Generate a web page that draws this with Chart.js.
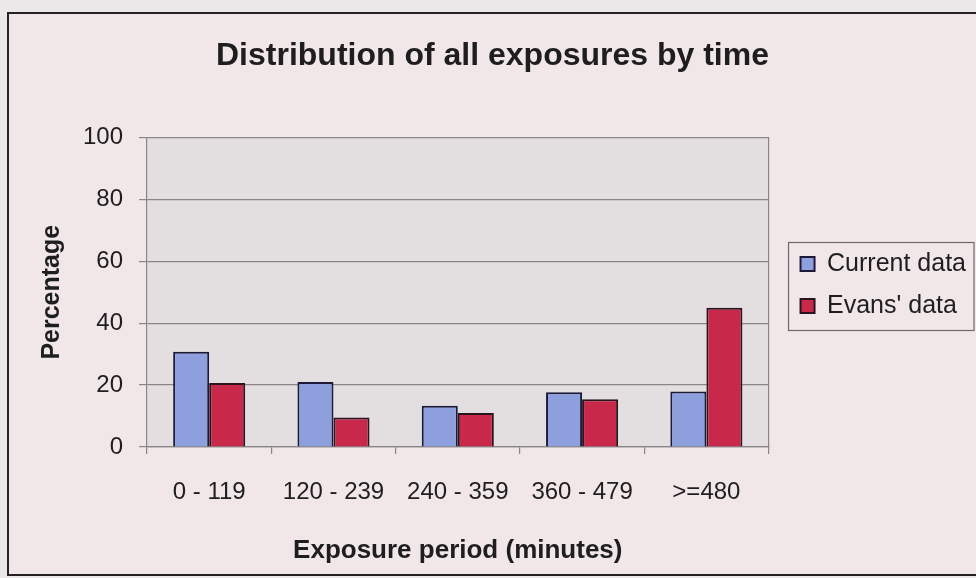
<!DOCTYPE html>
<html>
<head>
<meta charset="utf-8">
<script src="https://cdn.jsdelivr.net/npm/chart.js@4.4.0/dist/chart.umd.min.js"></script>
<style>
  html, body { margin: 0; padding: 0; background: #ebe8e9; }
  #wrap { width: 976px; height: 578px; position: relative; }
  canvas { display: block; }
</style>
</head>
<body>
<div id="wrap"><canvas id="chart" width="976" height="578"></canvas></div>
<script>
// Exposure periods (minutes) and the share of exposures in each, in percent
const categories = ['0 - 119', '120 - 239', '240 - 359', '360 - 479', '>=480'];
const currentData = [30.8, 21, 13.3, 17.7, 17.9];
const evansData = [20.7, 9.5, 11, 15.4, 45];
const yTicks = [0, 20, 40, 60, 80, 100];

const FONT = "'Liberation Sans', Arial, sans-serif";
const INK = '#1e1e1e';
const GRID = '#8a8688';

// Paints the framed pink panel and the grey plot background
const panelPlugin = {
  id: 'panel',
  beforeDraw(chart) {
    const { ctx, chartArea: a } = chart;
    ctx.save();
    ctx.fillStyle = '#ebe8e9';
    ctx.fillRect(0, 0, chart.width, chart.height);
    ctx.fillStyle = '#f1e6e8';
    ctx.fillRect(8, 13, chart.width, 562);
    ctx.strokeStyle = '#262224';
    ctx.lineWidth = 2;
    ctx.strokeRect(8, 13, chart.width + 4, 562);
    ctx.fillStyle = '#e3dfe1';
    ctx.fillRect(a.left, a.top, a.right - a.left, a.bottom - a.top);
    ctx.restore();
  }
};

// Thin frame around the legend entries
const legendFramePlugin = {
  id: 'legendFrame',
  afterDraw(chart) {
    const lg = chart.legend;
    if (!lg || !lg.legendHitBoxes || !lg.legendHitBoxes.length) return;
    const hb = lg.legendHitBoxes;
    const first = hb[0], last = hb[hb.length - 1];
    const left = first.left - 12;
    const top = first.top - 9;
    const bottom = last.top + last.height + 12;
    const right = 974;
    const ctx = chart.ctx;
    ctx.save();
    ctx.strokeStyle = '#6e6a6c';
    ctx.lineWidth = 1.2;
    ctx.strokeRect(left, top, right - left, bottom - top);
    ctx.restore();
  }
};

new Chart(document.getElementById('chart'), {
  type: 'bar',
  data: {
    labels: categories,
    datasets: [
      {
        label: 'Current data',
        data: currentData,
        backgroundColor: '#8d9fdc',
        borderColor: '#1c1a38',
        borderWidth: 2
      },
      {
        label: "Evans' data",
        data: evansData,
        backgroundColor: '#c8294a',
        borderColor: '#2a1420',
        borderWidth: 2
      }
    ]
  },
  options: {
    responsive: false,
    devicePixelRatio: 1,
    animation: false,
    layout: { padding: { top: 4, left: 9, right: 0, bottom: 12 } },
    datasets: {
      bar: { categoryPercentage: 0.58, barPercentage: 1.0 }
    },
    plugins: {
      title: {
        display: true,
        text: 'Distribution of all exposures by time',
        color: INK,
        font: { family: FONT, size: 32, weight: 'bold' },
        padding: { top: 33, bottom: 62 }
      },
      legend: {
        position: 'right',
        maxWidth: 320,
        labels: {
          color: INK,
          font: { family: FONT, size: 25 },
          boxWidth: 14,
          boxHeight: 14,
          padding: 17
        }
      },
      tooltip: { enabled: false }
    },
    scales: {
      x: {
        grid: {
          display: true,
          drawOnChartArea: false,
          tickLength: 7,
          color: GRID,
          lineWidth: 1.2
        },
        border: { display: true, color: GRID, width: 1.2 },
        ticks: {
          color: INK,
          font: { family: FONT, size: 24 },
          padding: 24,
          maxRotation: 0
        },
        title: {
          display: true,
          text: 'Exposure period (minutes)',
          color: INK,
          font: { family: FONT, size: 26, weight: 'bold' },
          padding: { top: 4, bottom: 0 }
        }
      },
      y: {
        min: 0,
        max: 100,
        afterBuildTicks(scale) {
          scale.ticks = yTicks.map(v => ({ value: v }));
        },
        grid: {
          color: GRID,
          lineWidth: 1.2,
          tickLength: 8
        },
        border: { display: true, color: GRID, width: 1.2 },
        ticks: {
          color: INK,
          font: { family: FONT, size: 24 },
          padding: 16
        },
        title: {
          display: true,
          text: 'Percentage',
          color: INK,
          font: { family: FONT, size: 25, weight: 'bold' },
          padding: { top: 28, bottom: 0 }
        }
      },
      frame: {
        position: 'right',
        min: 0,
        max: 100,
        grid: { display: false },
        ticks: { display: false },
        border: { display: true, color: GRID, width: 1.2 },
        afterFit(scale) { scale.width = 15; }
      }
    }
  },
  plugins: [panelPlugin, legendFramePlugin]
});
</script>
</body>
</html>
